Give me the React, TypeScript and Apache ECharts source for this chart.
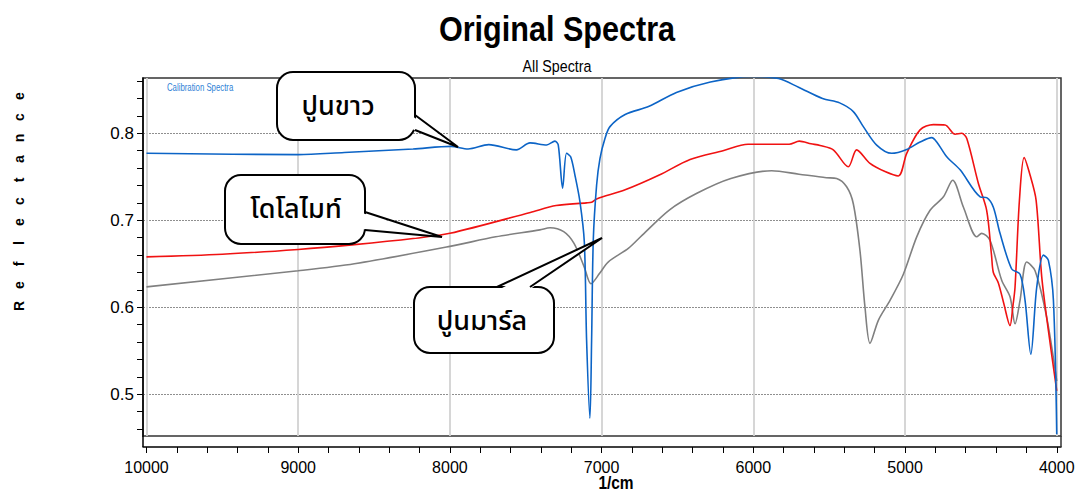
import React, { useEffect, useRef } from "react";
import * as echarts from "echarts";

// Wavenumber (1/cm) and reflectance readings for each sample
const limeWn = [10000, 9000, 8696, 8243, 7993, 7880, 7744, 7562, 7472, 7362, 7308, 7286, 7257, 7231, 7204, 7176, 7143, 7114, 7099, 7077, 7066, 7055, 7033, 7011, 6978, 6945, 6845, 6687, 6507, 6283, 6013, 5834, 5702, 5544, 5431, 5341, 5275, 5187, 5088, 4989, 4901, 4824, 4791, 4725, 4637, 4505, 4462, 4418, 4374, 4297, 4242, 4209, 4171, 4132, 4088, 4055, 4022, 4000];
const limeR = [0.777, 0.7755, 0.778, 0.782, 0.785, 0.782, 0.787, 0.781, 0.789, 0.7866, 0.791, 0.7866, 0.737, 0.777, 0.773, 0.752, 0.7215, 0.675, 0.562, 0.4724, 0.562, 0.677, 0.7406, 0.771, 0.794, 0.8077, 0.8216, 0.831, 0.847, 0.859, 0.8655, 0.863, 0.853, 0.84, 0.835, 0.825, 0.8077, 0.7865, 0.777, 0.7815, 0.79, 0.795, 0.79, 0.773, 0.758, 0.727, 0.726, 0.715, 0.685, 0.644, 0.638, 0.608, 0.546, 0.623, 0.66, 0.654, 0.608, 0.454];

const dolomiteWn = [10000, 9500, 9000, 8630, 8243, 8000, 7470, 7300, 7100, 7066, 7033, 6845, 6620, 6417, 6200, 6035, 5764, 5697, 5620, 5560, 5473, 5374, 5319, 5231, 5132, 5044, 4989, 4901, 4813, 4736, 4670, 4626, 4593, 4516, 4462, 4430, 4418, 4385, 4350, 4308, 4290, 4275, 4246, 4215, 4176, 4136, 4099, 4055, 4000];
const dolomiteR = [0.658, 0.661, 0.6665, 0.672, 0.679, 0.685, 0.709, 0.717, 0.72, 0.7207, 0.7245, 0.735, 0.752, 0.77, 0.78, 0.7875, 0.7875, 0.791, 0.788, 0.786, 0.781, 0.7615, 0.781, 0.7654, 0.756, 0.751, 0.777, 0.804, 0.81, 0.8096, 0.799, 0.8, 0.794, 0.742, 0.7115, 0.66, 0.64, 0.628, 0.605, 0.579, 0.6, 0.623, 0.723, 0.772, 0.752, 0.723, 0.635, 0.573, 0.504];

const marlWn = [10000, 9000, 8630, 8000, 7698, 7407, 7340, 7250, 7182, 7115, 7070, 7013, 6957, 6822, 6732, 6552, 6372, 6148, 5879, 5699, 5519, 5451, 5385, 5341, 5297, 5264, 5231, 5176, 5099, 5011, 4923, 4835, 4747, 4686, 4615, 4527, 4495, 4440, 4363, 4308, 4275, 4242, 4198, 4143, 4066, 4000];
const marlR = [0.6235, 0.642, 0.65, 0.67, 0.681, 0.689, 0.6915, 0.687, 0.6735, 0.6465, 0.627, 0.639, 0.652, 0.668, 0.683, 0.712, 0.731, 0.748, 0.757, 0.753, 0.749, 0.748, 0.7385, 0.719, 0.665, 0.6, 0.5585, 0.585, 0.608, 0.638, 0.681, 0.7115, 0.727, 0.746, 0.715, 0.681, 0.685, 0.677, 0.631, 0.612, 0.581, 0.608, 0.652, 0.642, 0.588, 0.515];

// Axis ticks and labels
const xLabelValues = [4000, 5000, 6000, 7000, 8000, 9000, 10000];
const yLabelValues = [0.5, 0.6, 0.7, 0.8];
const xMinorStep = 200;
const yMinorStep = 0.02;

const X_MIN = 3972;
const X_MAX = 10023;
const Y_MIN = 0.452;
const Y_MAX = 0.8636;

const SANS = "'Liberation Sans', Arial, sans-serif";
const THAI = "'Noto Sans Thai', 'Noto Sans Thai UI', Tahoma, 'Noto Sans', sans-serif";

function pairs(xs: number[], ys: number[]) {
  return xs.map((x, i) => [x, ys[i]]);
}

function steps(from: number, to: number, step: number) {
  const out: number[] = [];
  const n = Math.round((to - from) / step);
  for (let i = 0; i <= n; i++) out.push(+(from + i * step).toFixed(4));
  return out;
}

type Pt = [number, number];

function label(
  text: string,
  x: number,
  y: number,
  size: number,
  opts: { bold?: boolean; align?: string; scaleX?: number; fill?: string } = {}
) {
  return {
    type: "text",
    z: 100,
    x,
    y,
    scaleX: opts.scaleX ?? 1,
    style: {
      text,
      x: 0,
      y: 0,
      align: opts.align ?? "center",
      verticalAlign: "middle",
      fontSize: size,
      fontWeight: opts.bold ? "bold" : "normal",
      fontFamily: SANS,
      fill: opts.fill ?? "#000",
    },
  };
}

function callout(
  text: string,
  box: { x: number; y: number; w: number; h: number },
  base: [Pt, Pt],
  inner: [Pt, Pt],
  tip: Pt,
  center: Pt
) {
  return [
    {
      type: "rect",
      z: 100,
      shape: { x: box.x, y: box.y, width: box.w, height: box.h, r: 16 },
      style: { fill: "#fff", stroke: "#000", lineWidth: 2 },
    },
    {
      type: "polygon",
      z: 101,
      shape: { points: [inner[0], tip, inner[1]] },
      style: { fill: "#fff", stroke: null },
    },
    {
      type: "polyline",
      z: 102,
      shape: { points: [base[0], tip, base[1]] },
      style: { stroke: "#000", lineWidth: 2, fill: null },
    },
    {
      type: "text",
      z: 103,
      x: center[0],
      y: center[1],
      style: {
        text,
        x: 0,
        y: 0,
        align: "center",
        verticalAlign: "middle",
        fontSize: 27,
        fontWeight: 500,
        fontFamily: THAI,
        fill: "#000",
      },
    },
  ];
}

export default function App() {
  const ref = useRef<HTMLDivElement>(null);

  useEffect(() => {
    document.body.style.margin = "0";
    if (!ref.current) return;
    const chart = echarts.init(ref.current, null, { renderer: "svg" });

    const yTitleEls = "Reflectance".split("").map((ch, i) => ({
      type: "text",
      z: 100,
      x: 19,
      y: 306 - i * 21,
      rotation: Math.PI / 2,
      style: {
        text: ch,
        x: 0,
        y: 0,
        align: "center",
        verticalAlign: "middle",
        fontSize: 14,
        fontWeight: "bold",
        fontFamily: SANS,
        fill: "#000",
      },
    }));

    const lineSeries = (name: string, data: number[][], color: string) => ({
      name,
      type: "line",
      data,
      smooth: 0.3,
      symbol: "none",
      clip: true,
      lineStyle: { color, width: 1.6 },
      xAxisIndex: 0,
      yAxisIndex: 0,
    });

    chart.setOption({
      animation: false,
      backgroundColor: "#fff",
      grid: {
        left: 143,
        top: 78,
        right: 14,
        bottom: 59,
        show: true,
        borderColor: "#333",
        borderWidth: 1.5,
        backgroundColor: "transparent",
        outerBoundsMode: "none",
      },
      xAxis: [
        {
          type: "value",
          inverse: true,
          min: X_MIN,
          max: X_MAX,
          offset: 11,
          axisLine: { show: true, lineStyle: { color: "#000", width: 1.5 } },
          axisTick: {
            show: true,
            length: 6,
            customValues: steps(4000, 10000, xMinorStep),
            lineStyle: { color: "#000", width: 1 },
          },
          axisLabel: {
            customValues: xLabelValues,
            formatter: (v: number) => String(v),
            margin: 12,
            fontSize: 16,
            fontFamily: SANS,
            color: "#000",
          },
          splitLine: { show: false },
        },
        {
          type: "value",
          inverse: true,
          min: X_MIN,
          max: X_MAX,
          position: "bottom",
          axisLine: { show: false },
          axisTick: { show: false, customValues: xLabelValues },
          axisLabel: { show: false },
          splitLine: { show: true, lineStyle: { color: "#d2d2d2", width: 1.8 } },
        },
      ],
      yAxis: [
        {
          type: "value",
          min: Y_MIN,
          max: Y_MAX,
          axisLine: { show: true, lineStyle: { color: "#000", width: 1.5 } },
          axisTick: {
            show: true,
            length: 6,
            customValues: steps(0.46, 0.86, yMinorStep),
            lineStyle: { color: "#000", width: 1 },
          },
          axisLabel: {
            customValues: yLabelValues,
            formatter: (v: number) => v.toFixed(1),
            margin: 9,
            fontSize: 17,
            fontFamily: SANS,
            color: "#000",
          },
          splitLine: { show: false },
        },
        {
          type: "value",
          min: Y_MIN,
          max: Y_MAX,
          position: "left",
          axisLine: { show: false },
          axisTick: { show: false, customValues: yLabelValues },
          axisLabel: { show: false },
          splitLine: {
            show: true,
            lineStyle: { color: "#8f8f8f", width: 1, type: [2, 1] },
          },
        },
      ],
      series: [
        lineSeries("ปูนมาร์ล", pairs(marlWn, marlR), "#808080"),
        lineSeries("โดโลไมท์", pairs(dolomiteWn, dolomiteR), "#f01212"),
        lineSeries("ปูนขาว", pairs(limeWn, limeR), "#0c64c6"),
      ],
      graphic: [
        label("Original Spectra", 557, 29, 36, { bold: true, scaleX: 0.85 }),
        label("All Spectra", 557, 66, 17, { scaleX: 0.84 }),
        label("Calibration Spectra", 167, 88, 10, { align: "left", scaleX: 0.78, fill: "#2f7fd6" }),
        label("1/cm", 616, 483, 18, { bold: true, scaleX: 0.86 }),
        {
          type: "line",
          z: 100,
          shape: { x1: 143, y1: 436, x2: 143, y2: 447 },
          style: { stroke: "#000", lineWidth: 1.5 },
        },
        {
          type: "line",
          z: 100,
          shape: { x1: 1061, y1: 436, x2: 1061, y2: 447 },
          style: { stroke: "#333", lineWidth: 1.5 },
        },
        ...yTitleEls,
        ...callout(
          "ปูนขาว",
          { x: 277, y: 72, w: 138, h: 68 },
          [[415, 115], [415, 130]],
          [[412, 116], [412, 129]],
          [458, 147],
          [338, 106]
        ),
        ...callout(
          "โดโลไมท์",
          { x: 225, y: 175, w: 140, h: 69 },
          [[365, 212], [365, 230]],
          [[362, 213], [362, 229]],
          [442, 237],
          [296, 209]
        ),
        ...callout(
          "ปูนมาร์ล",
          { x: 414, y: 287, w: 140, h: 66 },
          [[497, 287], [530, 287]],
          [[498, 290], [529, 290]],
          [602, 238],
          [482, 321]
        ),
      ],
    });

    return () => chart.dispose();
  }, []);

  return <div ref={ref} style={{ width: 1075, height: 495 }} />;
}
